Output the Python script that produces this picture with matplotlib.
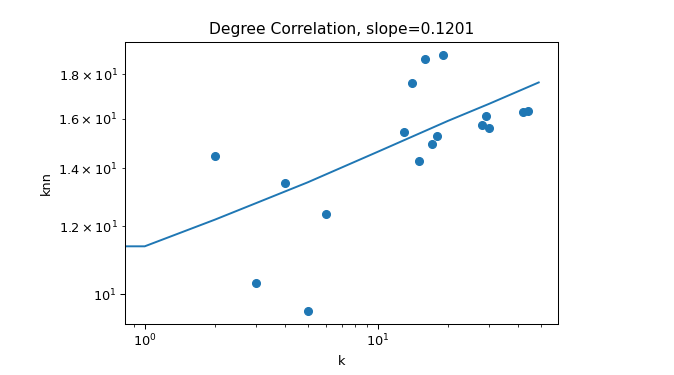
import matplotlib
matplotlib.use("Agg")
import matplotlib.pyplot as plt

# degree k and average neighbour degree knn
k_vals = [2, 3, 4, 5, 6, 13, 14, 15, 16, 17, 18, 19, 28, 29, 30, 42, 44]
knn_vals = [14.48, 10.31, 13.47, 9.56, 12.40, 15.44, 17.61, 14.29, 18.77,
            14.95, 15.28, 18.97, 15.74, 16.12, 15.61, 16.29, 16.33]

# fitted curve, k=0 gives the flat part on the log axis
fit_k = [0, 1, 2, 3, 5, 10, 20, 30, 49]
fit_knn = [11.37, 11.37, 12.21, 12.76, 13.49, 14.64, 15.90, 16.64, 17.62]
slope = 0.1201

# slightly smaller rendering scale than the default 100 dpi
dpi = 93
fig = plt.figure(figsize=(674 / dpi, 375 / dpi), dpi=dpi)
ax = fig.add_axes([0.1855, 0.136, 0.643, 0.752])

ax.scatter(k_vals, knn_vals)
ax.plot(fit_k, fit_knn)

ax.set_xscale("log")
ax.set_yscale("log")
ax.set_xlabel("k")  # label x-axis
ax.set_ylabel("knn")  # label y-axis
ax.set_title(f"Degree Correlation, slope={slope}")

fig.savefig("out.png", dpi=dpi)
